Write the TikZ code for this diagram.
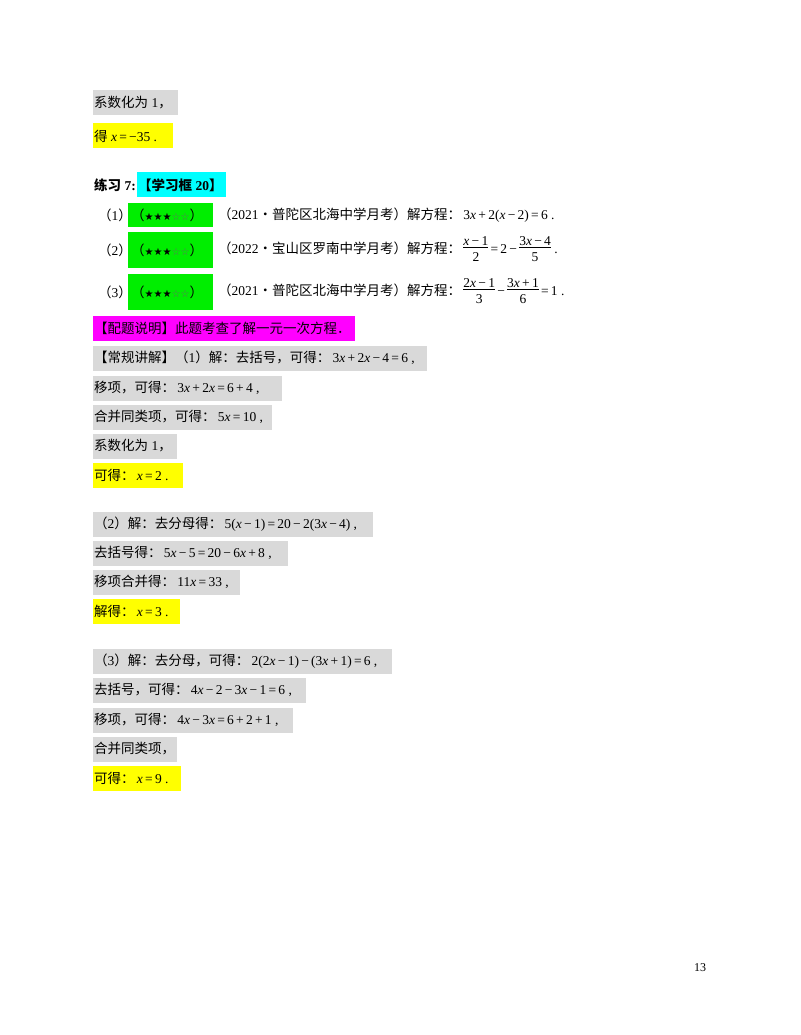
\documentclass[tikz,border=0pt]{standalone}
\usepackage{fontspec}
\setmainfont{Liberation Serif}
\newfontfamily\cjk{Noto Sans CJK SC}
\newfontfamily\sym{DejaVu Sans}
\definecolor{gbg}{RGB}{217,217,217}
\definecolor{ylw}{RGB}{255,255,0}
\definecolor{grn}{RGB}{0,238,0}
\definecolor{cyn}{RGB}{0,255,255}
\definecolor{mag}{RGB}{255,0,255}
\newcommand{\vx}{\textit{x}}
\newcommand{\fr}[2]{\begin{tabular}{@{}c@{}}#1\\[-3pt]\hline\rule{0pt}{14pt}#2\end{tabular}}
\newcommand{\st}{{\sym\fontsize{10}{12}\selectfont ★★★{\color{black!60}☆☆}}}
\newcommand{\rowbox}[5]{% name, y, x2, colour, text
  \fill[#4] (93,-#2+12.5) rectangle (#3,-#2-12.5);
  \node[txt] (#1) at (93,-#2) {#5};}
\begin{document}
\begin{tikzpicture}[x=1pt,y=1pt,txt/.style={anchor=west,inner sep=1pt,font=\fontsize{13.5}{16}\selectfont}]
\useasboundingbox (0,0) rectangle (800,-1035);
\rowbox{a1}{103}{178}{gbg}{{\cjk 系数化为} 1{\cjk ，}}
\rowbox{a2}{136}{173}{ylw}{{\cjk 得} \vx\,=\,−35 .}
\fill[cyn] (137,-172) rectangle (226,-197);
\node[txt] (h) at (93,-185) {\textbf{{\cjk 练习} 7:}};
\node[txt] (hb) at (137,-185) {\textbf{{\cjk 【学习框} 20{\cjk 】}}};
\fill[grn] (128,-203) rectangle (213,-227);
\fill[grn] (128,-232) rectangle (213,-268);
\fill[grn] (128,-274) rectangle (213,-310);
\node[txt] (q1) at (97,-215) {{\cjk （}1{\cjk ）}};
\node[txt] (q2) at (97,-250) {{\cjk （}2{\cjk ）}};
\node[txt] (q3) at (97,-292) {{\cjk （}3{\cjk ）}};
\node[txt] (s1) at (130,-215) {{\cjk （}\st{\cjk ）}};
\node[txt] (s2) at (130,-250) {{\cjk （}\st{\cjk ）}};
\node[txt] (s3) at (130,-292) {{\cjk （}\st{\cjk ）}};
\node[txt] (e1) at (217,-215) {{\cjk （}2021{\cjk •普陀区北海中学月考）解方程：}\,3\vx\,+\,2(\vx\,−\,2)\,=\,6 .};
\node[txt] (e2) at (217,-250) {{\cjk （}2022{\cjk •宝山区罗南中学月考）解方程：}\,\fr{\vx\,−\,1}{2}\,=\,2\,−\,\fr{3\vx\,−\,4}{5} .};
\node[txt] (e3) at (217,-292) {{\cjk （}2021{\cjk •普陀区北海中学月考）解方程：}\,\fr{2\vx\,−\,1}{3}\,−\,\fr{3\vx\,+\,1}{6}\,=\,1 .};
\rowbox{m}{328}{355}{mag}{{\cjk 【配题说明】此题考查了解一元一次方程．}}
\rowbox{b1}{358}{427}{gbg}{{\cjk 【常规讲解】（}1{\cjk ）解：去括号，可得：}\,3\vx\,+\,2\vx\,−\,4\,=\,6 ,}
\rowbox{b2}{388}{282}{gbg}{{\cjk 移项，可得：}\,3\vx\,+\,2\vx\,=\,6\,+\,4 ,}
\rowbox{b3}{417}{272}{gbg}{{\cjk 合并同类项，可得：}\,5\vx\,=\,10 ,}
\rowbox{b4}{446}{177}{gbg}{{\cjk 系数化为} 1{\cjk ，}}
\rowbox{b5}{475}{183}{ylw}{{\cjk 可得：}\,\vx\,=\,2 .}
\rowbox{c1}{524}{373}{gbg}{{\cjk （}2{\cjk ）解：去分母得：}\,5(\vx\,−\,1)\,=\,20\,−\,2(3\vx\,−\,4) ,}
\rowbox{c2}{553}{288}{gbg}{{\cjk 去括号得：}\,5\vx\,−\,5\,=\,20\,−\,6\vx\,+\,8 ,}
\rowbox{c3}{582}{240}{gbg}{{\cjk 移项合并得：}\,11\vx\,=\,33 ,}
\rowbox{c4}{611}{180}{ylw}{{\cjk 解得：}\,\vx\,=\,3 .}
\rowbox{d1}{661}{392}{gbg}{{\cjk （}3{\cjk ）解：去分母，可得：}\,2(2\vx\,−\,1)\,−\,(3\vx\,+\,1)\,=\,6 ,}
\rowbox{d2}{690}{306}{gbg}{{\cjk 去括号，可得：}\,4\vx\,−\,2\,−\,3\vx\,−\,1\,=\,6 ,}
\rowbox{d3}{720}{293}{gbg}{{\cjk 移项，可得：}\,4\vx\,−\,3\vx\,=\,6\,+\,2\,+\,1 ,}
\rowbox{d4}{749}{177}{gbg}{{\cjk 合并同类项，}}
\rowbox{d5}{778}{181}{ylw}{{\cjk 可得：}\,\vx\,=\,9 .}
\node[font=\fontsize{12}{14}\selectfont] (pg) at (700,-968) {13};
\end{tikzpicture}
\end{document}
